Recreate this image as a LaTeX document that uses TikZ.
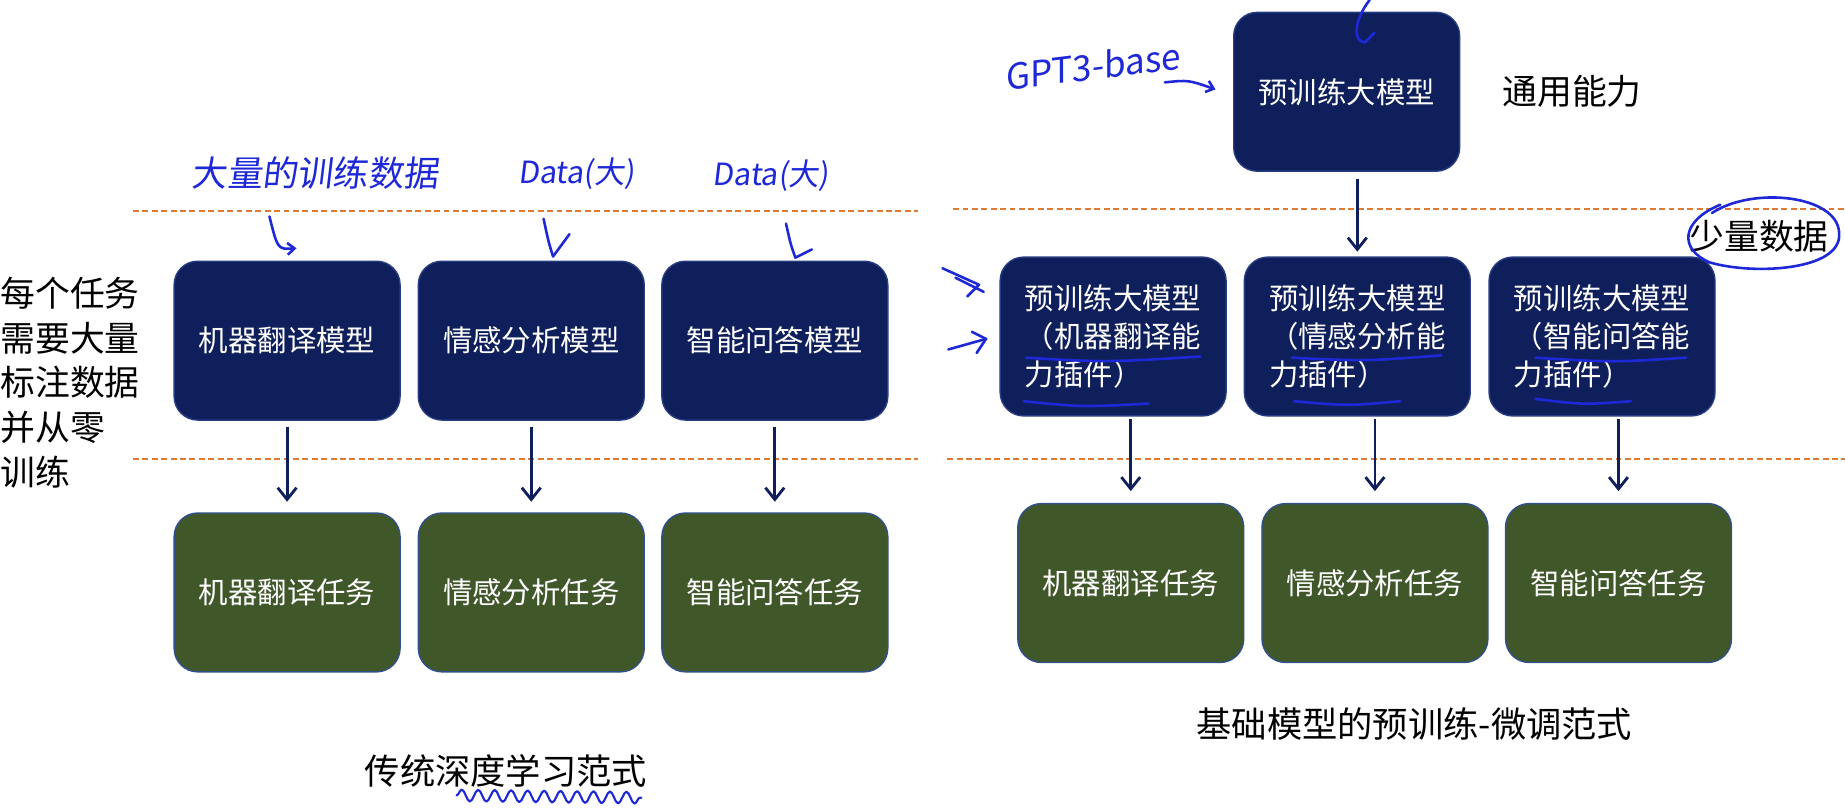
\documentclass[tikz,border=0pt]{standalone}
\usepackage{fontspec}
\setmainfont{Noto Sans CJK SC}
\newfontfamily\handfont[FakeSlant=0.12]{Noto Sans CJK SC}
\usetikzlibrary{arrows.meta,decorations.pathmorphing,calc}
\definecolor{navy}{RGB}{15,31,92}
\definecolor{navyedge}{RGB}{40,60,130}
\definecolor{taskgreen}{RGB}{64,87,42}
\definecolor{greenedge}{RGB}{50,80,140}
\definecolor{sepor}{RGB}{222,122,52}
\definecolor{pen}{RGB}{30,40,215}
\begin{document}
\begin{tikzpicture}[x=0.5pt,y=-0.5pt,
  box/.style={rounded corners=10pt, minimum width=96pt, minimum height=67.5pt, text=white,
    font=\fontsize{12.5}{16}\selectfont, align=center, inner sep=0pt, line width=0.6pt},
  modelbox/.style={box, fill=navy, draw=navyedge},
  taskbox/.style={box, fill=taskgreen, draw=greenedge},
  arr/.style={draw=navy, line width=1.2pt, -{Straight Barb[length=5pt,width=8pt]}},
  sep/.style={draw=sepor, line width=0.9pt, dash pattern=on 2.5pt off 1.5pt},
  hand/.style={draw=pen, line width=1.1pt, line cap=round, line join=round},
  handarr/.style={hand, -{Straight Barb[length=3pt,width=5pt]}},
  handtxt/.style={text=pen, inner sep=0pt},
  lbl/.style={text=black, inner sep=0pt, font=\fontsize{14.8}{19}\selectfont}]
\useasboundingbox (0,0) rectangle (1568,688);
\fill[white] (0,0) rectangle (1568,688);

% separators
\draw[sep] (113,179) -- (780,179);
\draw[sep] (113,390) -- (780,390);
\draw[sep] (810,178) -- (1568,178);
\draw[sep] (805,390) -- (1568,390);

% left: traditional paradigm
\node[modelbox] (lm1) at (244,289.5) {机器翻译模型};
\node[modelbox] (lm2) at (451.5,289.5) {情感分析模型};
\node[modelbox] (lm3) at (658.5,289.5) {智能问答模型};
\node[taskbox] (lt1) at (244,503.5) {机器翻译任务};
\node[taskbox] (lt2) at (451.5,503.5) {情感分析任务};
\node[taskbox] (lt3) at (658.5,503.5) {智能问答任务};
\foreach \i in {1,2,3}{
  \draw[arr, shorten <=2.5pt, shorten >=4.5pt] (lm\i.south) -- (lt\i.north);
}
\node[lbl, anchor=north west, align=left] (need) at (0,235) {每个任务\\需要大量\\标注数据\\并从零\\训练};
\node[lbl, font=\fontsize{15}{18}\selectfont] (cap1) at (430,655) {传统深度学习范式};

% right: pretrain-finetune paradigm
\node[modelbox] (top) at (1144.5,78) {预训练大模型};
\node[lbl] (gen) at (1336,78) {通用能力};
\node[modelbox, align=left] (rm1) at (946,286) {预训练大模型\\（机器翻译能\\力插件）};
\node[modelbox, align=left] (rm2) at (1153.5,286) {预训练大模型\\（情感分析能\\力插件）};
\node[modelbox, align=left] (rm3) at (1361.5,286) {预训练大模型\\（智能问答能\\力插件）};
\node[taskbox] (rt1) at (961,495.5) {机器翻译任务};
\node[taskbox] (rt2) at (1168.5,495.5) {情感分析任务};
\node[taskbox] (rt3) at (1375.5,495.5) {智能问答任务};
\node[lbl] (few) at (1495,201) {少量数据};
\draw[arr, shorten <=3pt, shorten >=2pt] (rm2.north |- top.south) -- (rm2.north);
\foreach \i in {1,2,3}{
  \draw[arr, shorten <=1pt, shorten >=5pt] (rt\i.north |- rm\i.south) -- (rt\i.north);
}
\node[lbl, font=\fontsize{15}{18}\selectfont] (cap2) at (1202,615) {基础模型的预训练-微调范式};

% handwritten annotations
\node[handtxt, font=\handfont\fontsize{15}{18}\selectfont] (h1) at (268,147) {大量的训练数据};
\node[handtxt, font=\handfont\fontsize{13}{16}\selectfont] (h2) at (490,148) {Data(大)};
\node[handtxt, font=\handfont\fontsize{13}{16}\selectfont] (h3) at (655,149) {Data(大)};
\node[handtxt, font=\handfont\fontsize{15}{18}\selectfont, rotate=7] (h4) at (928,56) {GPT3-base};
\draw[handarr] (229,184) .. controls (236,212) .. (252,211);
\draw[hand] (462,186) .. controls (466,205) .. (470,218) -- (484,199);
\draw[hand] (668,190) .. controls (672,208) .. (676,219) -- (690,212);
\draw[handarr] (990,70) .. controls (1010,68) .. (1033,76);
\draw[hand] (1164,0) .. controls (1150,18) and (1150,36) .. (1160,36) -- (1168,28);
\draw[hand] (801,228) -- (832,242) -- (822,252);
\draw[hand] (812,236) -- (836,248);
\draw[hand] (806,297) -- (838,288);
\draw[hand] (826,282) -- (838,288) -- (830,300);
% underlines in fine-tune boxes
\draw[hand] (872,304) .. controls (940,308) .. (1020,303);
\draw[hand] (870,341) .. controls (920,346) .. (976,343);
\draw[hand] (1098,304) .. controls (1160,307) .. (1225,302);
\draw[hand] (1100,341) .. controls (1145,345) .. (1190,341);
\draw[hand] (1305,304) .. controls (1370,308) .. (1433,304);
\draw[hand] (1305,339) .. controls (1345,344) .. (1386,341);
% circle around 少量数据
\draw[hand] (1455,181) .. controls (1490,158) and (1562,166) .. (1563,198)
   .. controls (1566,230) and (1490,234) .. (1453,223)
   .. controls (1427,212) and (1428,188) .. (1462,174);
% wavy underline
\draw[hand, line width=0.9pt, decorate, decoration={snake, segment length=7pt, amplitude=2.5pt}] (388,676) -- (545,678);
\end{tikzpicture}
\end{document}
